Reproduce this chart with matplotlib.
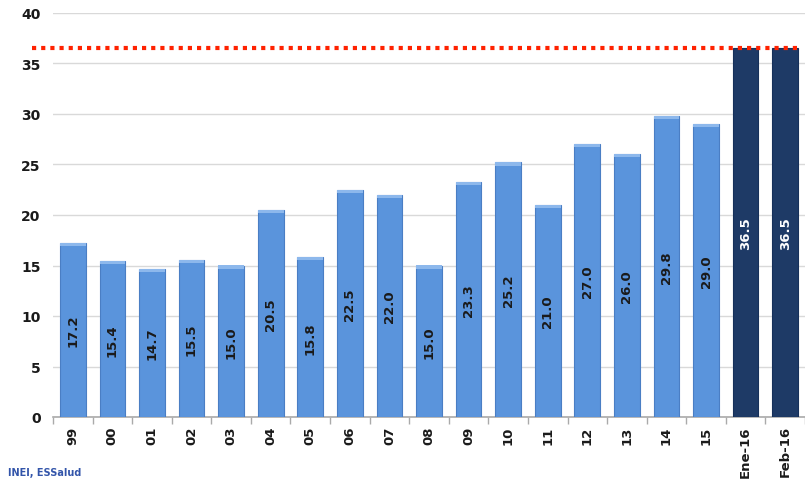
import matplotlib
matplotlib.use("Agg")
import matplotlib.pyplot as plt
import numpy as np

categories = ["99", "00", "01", "02", "03", "04", "05", "06", "07", "08", "09",
              "10", "11", "12", "13", "14", "15", "Ene-16", "Feb-16"]
values = [17.2, 15.4, 14.7, 15.5, 15.0, 20.5, 15.8, 22.5, 22.0, 15.0, 23.3,
          25.2, 21.0, 27.0, 26.0, 29.8, 29.0, 36.5, 36.5]
highlight = [False] * 17 + [True, True]
ref_level = 36.5
yticks = [0, 5, 10, 15, 20, 25, 30, 35, 40]

fig = plt.figure(figsize=(8.05, 4.81), dpi=100)
ax = fig.add_axes([53 / 805, 63 / 481, 1 - 53 / 805, (418 - 14) / 481])

x = np.arange(len(categories))
light = "#5A94DC"
dark = "#1E3A66"
colors = [dark if h else light for h in highlight]
edges = ["#16305A" if h else "#4A7EC4" for h in highlight]
ax.bar(x, values, width=0.65, color=colors, edgecolor=edges, linewidth=0.8, zorder=3)
# light cap on top of blue bars
for xi, v, h in zip(x, values, highlight):
    if not h:
        ax.bar(xi, 0.3, bottom=v - 0.3, width=0.65, color="#8DB8EC", linewidth=0, zorder=4)

for xi, v, h in zip(x, values, highlight):
    ax.text(xi, v / 2, f"{v:.1f}", rotation=90, ha="center", va="center",
            fontsize=9.5, fontweight="bold", color="white" if h else "#1A1A1A", zorder=5)

ax.set_xlim(-0.5, 18.25)
ax.set_ylim(0, 40)
ax.set_yticks(yticks)
ax.set_yticklabels([str(t) for t in yticks], fontsize=10, fontweight="bold", color="#1A1A1A")
ax.yaxis.grid(True, color="#D9D9D9", linewidth=1, zorder=0)
ax.set_axisbelow(True)
ax.tick_params(axis="y", length=0, pad=9)

ax.set_xticks(x)
ax.set_xticklabels(categories, rotation=90, fontsize=9.5, fontweight="bold", color="#1A1A1A")
ax.set_xticks(np.arange(-0.5, len(categories), 1), minor=True)
ax.tick_params(axis="x", which="major", length=0, pad=6)
ax.tick_params(axis="x", which="minor", length=5, color="#AAAAAA", width=1)

for s in ["top", "right", "left"]:
    ax.spines[s].set_visible(False)
ax.spines["bottom"].set_color("#AAAAAA")
ax.spines["bottom"].set_linewidth(1.2)

ax.plot([-1.02, 18.4], [ref_level, ref_level], color="#FF2200", linestyle=(0, (1, 1.2)),
        linewidth=3, clip_on=False, zorder=6, solid_capstyle="butt", dash_capstyle="butt")

fig.text(8 / 805, 475 / 481, "", transform=fig.transFigure)
fig.text(8 / 805, 3 / 481, "INEI, ESSalud", color="#3355AA", fontsize=7,
         fontweight="bold", ha="left", va="bottom")

fig.savefig("out.png", dpi=100)
